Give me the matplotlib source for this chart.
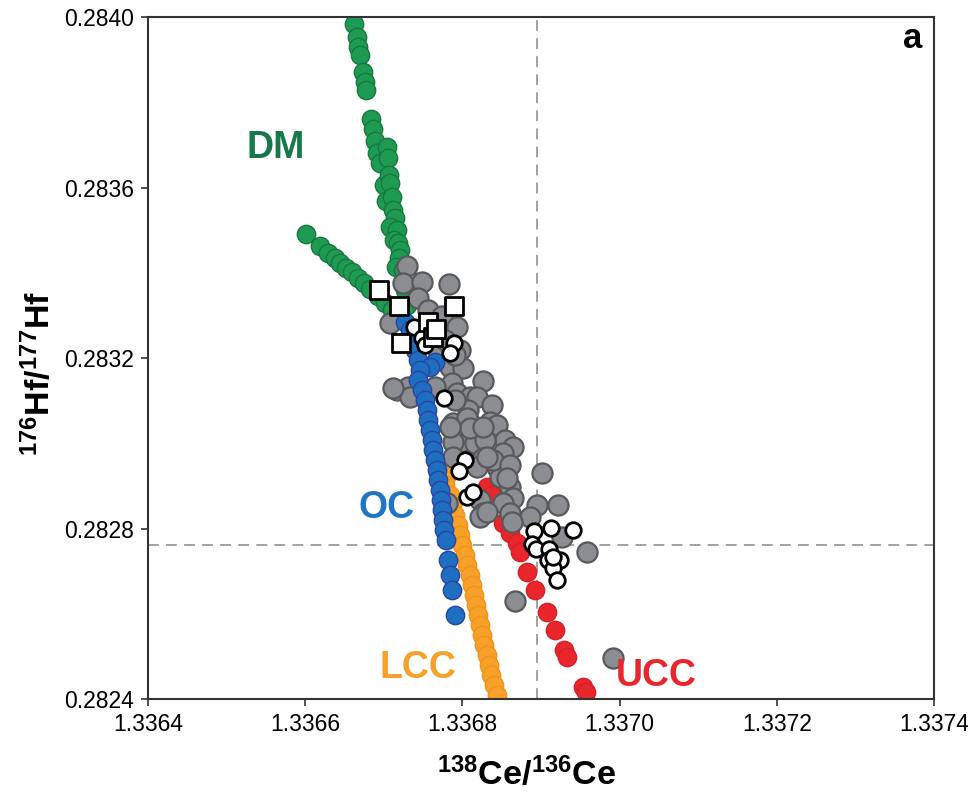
import matplotlib
matplotlib.use("Agg")
import matplotlib.pyplot as plt

plt.rcParams["font.family"] = ["Liberation Sans", "DejaVu Sans"]
plt.rcParams["mathtext.fontset"] = "custom"
plt.rcParams["mathtext.rm"] = "Liberation Sans"
plt.rcParams["mathtext.bf"] = "Liberation Sans:bold"

# depleted mantle mixing trends (two branches)
dm_x = [1.336662, 1.336666, 1.336667, 1.336670, 1.336674, 1.336676, 1.336677,
        1.336684, 1.336686, 1.336689, 1.336691, 1.336695, 1.336704, 1.336705,
        1.336700, 1.336707, 1.336708, 1.336703, 1.336710, 1.336712, 1.336714,
        1.336708, 1.336717, 1.336713, 1.336718, 1.336721, 1.336719, 1.336716,
        1.336724, 1.336727, 1.336730,
        1.336601, 1.336619, 1.336629, 1.336638, 1.336644, 1.336652, 1.336660,
        1.336667, 1.336675, 1.336682, 1.336693, 1.336702, 1.336710, 1.336718]
dm_y = [0.283984, 0.283953, 0.283930, 0.283911, 0.283871, 0.283848, 0.283829,
        0.283761, 0.283737, 0.283709, 0.283681, 0.283657, 0.283695, 0.283669,
        0.283606, 0.283629, 0.283611, 0.283568, 0.283578, 0.283547, 0.283528,
        0.283507, 0.283500, 0.283477, 0.283470, 0.283453, 0.283435, 0.283414,
        0.283406, 0.283360, 0.283324,
        0.283491, 0.283463, 0.283446, 0.283435, 0.283423, 0.283411, 0.283402,
        0.283388, 0.283376, 0.283362, 0.283345, 0.283329, 0.283313, 0.283294]

# oceanic crust
oc_x = [1.336727, 1.336733, 1.336751, 1.336736, 1.336740, 1.336744, 1.336765,
        1.336759, 1.336746, 1.336744, 1.336749, 1.336752, 1.336755, 1.336756,
        1.336759, 1.336761, 1.336763, 1.336765, 1.336768, 1.336769, 1.336772,
        1.336773, 1.336774, 1.336775, 1.336777, 1.336779, 1.336782, 1.336784,
        1.336787, 1.336791]
oc_y = [0.283284, 0.283266, 0.283254, 0.283242, 0.283219, 0.283195, 0.283191,
        0.283179, 0.283172, 0.283148, 0.283125, 0.283101, 0.283078, 0.283055,
        0.283031, 0.283008, 0.282984, 0.282961, 0.282937, 0.282914, 0.282890,
        0.282867, 0.282843, 0.282820, 0.282797, 0.282773, 0.282726, 0.282691,
        0.282656, 0.282597]

# lower continental crust
lcc_x = [1.336780, 1.336778, 1.336784, 1.336787, 1.336791, 1.336794, 1.336797,
         1.336800, 1.336803, 1.336806, 1.336810, 1.336812, 1.336815, 1.336817,
         1.336820, 1.336822, 1.336825, 1.336828, 1.336831, 1.336834, 1.336836,
         1.336840, 1.336844]
lcc_y = [0.282926, 0.282902, 0.282879, 0.282855, 0.282832, 0.282808, 0.282785,
         0.282761, 0.282738, 0.282714, 0.282691, 0.282667, 0.282644, 0.282621,
         0.282597, 0.282574, 0.282550, 0.282527, 0.282503, 0.282480, 0.282456,
         0.282433, 0.282409]

# upper continental crust
ucc_x = [1.336807, 1.336812, 1.336822, 1.336831, 1.336838, 1.336852, 1.336861,
         1.336870, 1.336873, 1.336882, 1.336892, 1.336908, 1.336918, 1.336929,
         1.336933, 1.336953, 1.336957]
ucc_y = [0.282996, 0.282977, 0.282956, 0.282897, 0.282879, 0.282813, 0.282789,
         0.282766, 0.282745, 0.282698, 0.282656, 0.282604, 0.282562, 0.282515,
         0.282499, 0.282428, 0.282416]

# measured samples
smp_x = [1.336730, 1.336724, 1.336749, 1.336783, 1.336744, 1.336756, 1.336708,
         1.336774, 1.336793, 1.336769, 1.336784, 1.336801, 1.336826, 1.336717,
         1.336731, 1.336733, 1.336787, 1.336765, 1.336793, 1.336810, 1.336819,
         1.336838, 1.336807, 1.336788, 1.336810, 1.336835, 1.336844, 1.336797,
         1.336816, 1.336854, 1.336864, 1.336791, 1.336806, 1.336810, 1.336788,
         1.336829, 1.336788, 1.336826, 1.336852, 1.336844, 1.336819, 1.336848,
         1.336861, 1.336864, 1.336852, 1.336822, 1.336826, 1.336780, 1.336784,
         1.336826, 1.336839, 1.336861, 1.336857, 1.336822, 1.336861, 1.336901,
         1.336895, 1.336922, 1.336927, 1.336959, 1.336867, 1.336886, 1.336863,
         1.336992, 1.336831, 1.336831, 1.336712, 1.336778, 1.336797, 1.336791]
smp_y = [0.283416, 0.283376, 0.283378, 0.283374, 0.283341, 0.283313, 0.283282,
         0.283298, 0.283273, 0.283219, 0.283179, 0.283177, 0.283146, 0.283125,
         0.283132, 0.283109, 0.283141, 0.283132, 0.283118, 0.283109, 0.283109,
         0.283090, 0.283078, 0.283048, 0.283048, 0.283050, 0.283043, 0.283003,
         0.283001, 0.283008, 0.282991, 0.283101, 0.283059, 0.283036, 0.283003,
         0.283008, 0.282968, 0.282965, 0.282977, 0.282944, 0.282944, 0.282921,
         0.282897, 0.282872, 0.282860, 0.282867, 0.282836, 0.282860, 0.283038,
         0.283038, 0.282961, 0.282949, 0.282918, 0.282827, 0.282836, 0.282930,
         0.282855, 0.282855, 0.282780, 0.282745, 0.282630, 0.282827, 0.282815,
         0.282496, 0.282968, 0.282839, 0.283130, 0.283242, 0.283219, 0.283207]

# open circles
circ_x = [1.336738, 1.336749, 1.336752, 1.336789, 1.336784, 1.336777, 1.336803,
          1.336796, 1.336806, 1.336814, 1.336891, 1.336913, 1.336941, 1.336889,
          1.336894, 1.336910, 1.336924, 1.336909, 1.336915, 1.336920, 1.336915]
circ_y = [0.283273, 0.283247, 0.283231, 0.283235, 0.283212, 0.283106, 0.282961,
          0.282935, 0.282874, 0.282886, 0.282794, 0.282801, 0.282797, 0.282764,
          0.282752, 0.282752, 0.282726, 0.282726, 0.282707, 0.282679, 0.282733]

# open squares
sq_x = [1.336694, 1.336719, 1.336789, 1.336756, 1.336763, 1.336766, 1.336722]
sq_y = [0.283360, 0.283322, 0.283322, 0.283284, 0.283249, 0.283268, 0.283235]

ref_x = 1.336895
ref_y = 0.282761

fig = plt.figure(figsize=(9.68, 7.94), dpi=100)
ax = fig.add_axes([0.1529, 0.1196, 0.812, 0.859])

ax.axvline(ref_x, color="#9a9a9a", ls=(0, (6, 4)), lw=1.3, zorder=1)
ax.axhline(ref_y, color="#9a9a9a", ls=(0, (6, 4)), lw=1.3, zorder=1)

ax.scatter(dm_x, dm_y, s=175, c="#1f9a53", edgecolors="#16783f", linewidths=1.0, zorder=2)
ax.scatter(ucc_x, ucc_y, s=175, c="#e8262b", edgecolors="#d3222a", linewidths=1.0, zorder=2)
ax.scatter(lcc_x, lcc_y, s=175, c="#f7a02a", edgecolors="#f09419", linewidths=1.0, zorder=2)
ax.scatter(smp_x, smp_y, s=210, c="#8c8d91", edgecolors="#58595b", linewidths=1.6, zorder=3)
ax.scatter(oc_x, oc_y, s=175, c="#1f6fc0", edgecolors="#2d43a0", linewidths=1.0, zorder=4)
ax.scatter(circ_x, circ_y, s=125, c="white", edgecolors="black", linewidths=2.0, zorder=5)
ax.scatter(sq_x, sq_y, s=175, marker="s", c="white", edgecolors="black", linewidths=2.0, zorder=6)

ax.text(1.336562, 0.283693, "DM", color="#17784a", fontsize=27, fontweight="bold", ha="center", va="center")
ax.text(1.336703, 0.282848, "OC", color="#1f76c4", fontsize=27, fontweight="bold", ha="center", va="center")
ax.text(1.336744, 0.282473, "LCC", color="#f7a02a", fontsize=27, fontweight="bold", ha="center", va="center")
ax.text(1.337046, 0.282454, "UCC", color="#e8262b", fontsize=27, fontweight="bold", ha="center", va="center")
ax.text(0.985, 0.992, "a", transform=ax.transAxes, fontsize=25, fontweight="bold", ha="right", va="top")

ax.set_xlim(1.3364, 1.3374)
ax.set_ylim(0.2824, 0.2840)
ax.set_xticks([1.3364, 1.3366, 1.3368, 1.3370, 1.3372, 1.3374])
ax.set_yticks([0.2824, 0.2828, 0.2832, 0.2836, 0.2840])
ax.set_xticklabels(["1.3364", "1.3366", "1.3368", "1.3370", "1.3372", "1.3374"])
ax.set_yticklabels(["0.2824", "0.2828", "0.2832", "0.2836", "0.2840"])
ax.tick_params(labelsize=16.5, length=5, width=1.2, color="#333333", direction="out", pad=5)

for sp in ax.spines.values():
    sp.set_color("#333333")
    sp.set_linewidth(1.5)

ax.set_xlabel(r"$\mathbf{^{138}Ce/^{136}Ce}$", fontsize=24.5)
ax.set_ylabel(r"$\mathbf{^{176}Hf/^{177}Hf}$", fontsize=24.5)
ax.xaxis.set_label_coords(0.482, -0.085)
ax.yaxis.set_label_coords(-0.116, 0.478)

fig.savefig("out.png", dpi=100)
